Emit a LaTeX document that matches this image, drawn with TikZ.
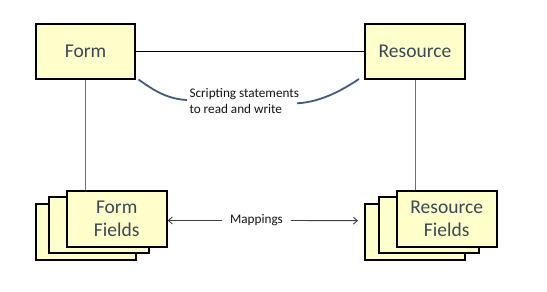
\documentclass[tikz,border=0pt]{standalone}
\usepackage{fontspec}
\setmainfont{Carlito}
\usetikzlibrary{arrows.meta}
\definecolor{boxfill}{RGB}{255,255,204}
\definecolor{boxtext}{RGB}{58,71,87}
\definecolor{vline}{RGB}{60,120,190}
\definecolor{curvecol}{RGB}{68,91,125}
\definecolor{mapcol}{RGB}{64,64,64}
\tikzset{
  ybox/.style={draw=black, line width=2pt, fill=boxfill, inner sep=0pt,
    minimum width=99pt, minimum height=55pt, text=boxtext,
    font=\fontsize{19.5}{23.4}\selectfont, align=center},
  stackbox/.style={ybox, minimum width=100pt, minimum height=56pt},
  small/.style={font=\fontsize{13.2}{15.8}\selectfont, text={rgb,255:red,20;green,20;blue,20}, inner sep=0pt},
  vconn/.style={draw=vline, line width=0.9pt},
  curveconn/.style={draw=curvecol, line width=1.8pt},
  maparrow/.style={draw=mapcol, line width=0.9pt, -{Straight Barb[length=4pt,width=7pt]}}
}
\begin{document}
\begin{tikzpicture}[x=1pt,y=-1pt]
\useasboundingbox[fill=white] (0,0) rectangle (547,292);
% top boxes
\node[ybox] (form) at (85.5,51.5) {Form};
\node[ybox, minimum width=100pt] (res) at (415,51.5) {Resource};
% form fields stack
\node[stackbox] (ff1) at (85.5,231.7) {};
\node[stackbox] (ff2) at (98.7,225.3) {};
\node[stackbox] (ff3) at (116.7,218.7) {Form\\Fields};
% resource fields stack
\node[stackbox] (rf1) at (415,231.7) {};
\node[stackbox] (rf2) at (428.7,225.3) {};
\node[stackbox] (rf3) at (446.7,218.7) {Resource\\Fields};
% connectors
\draw[line width=0.9pt] (form.east) -- (res.west);
\draw[vconn] (form.south) -- (ff3.north -| form.south);
\draw[vconn] (res.south) -- (rf3.north -| res.south);
% scripting label and curves
\node[small, anchor=west, align=left] (script) at (189.3,101) {Scripting statements\\to read and write};
\coordinate (c1s) at (138.5,79.5);
\coordinate (c1e) at (187,100);
\coordinate (c2s) at (297,103.3);
\coordinate (c2e) at (359,79);
\draw[curveconn] (c1s) .. controls (152,89) and (166,99) .. (c1e);
\draw[curveconn] (c2s) .. controls (322,102) and (344,89) .. (c2e);
% mappings
\node[small] (map) at (256.5,220.5) {Mappings};
\coordinate (mapend) at (358,220.7);
\draw[maparrow] (map.west) ++(-8pt,0) -- (map.west -| ff3.east);
\draw[maparrow] (map.east) ++(8pt,0) -- (mapend);
\end{tikzpicture}
\end{document}
